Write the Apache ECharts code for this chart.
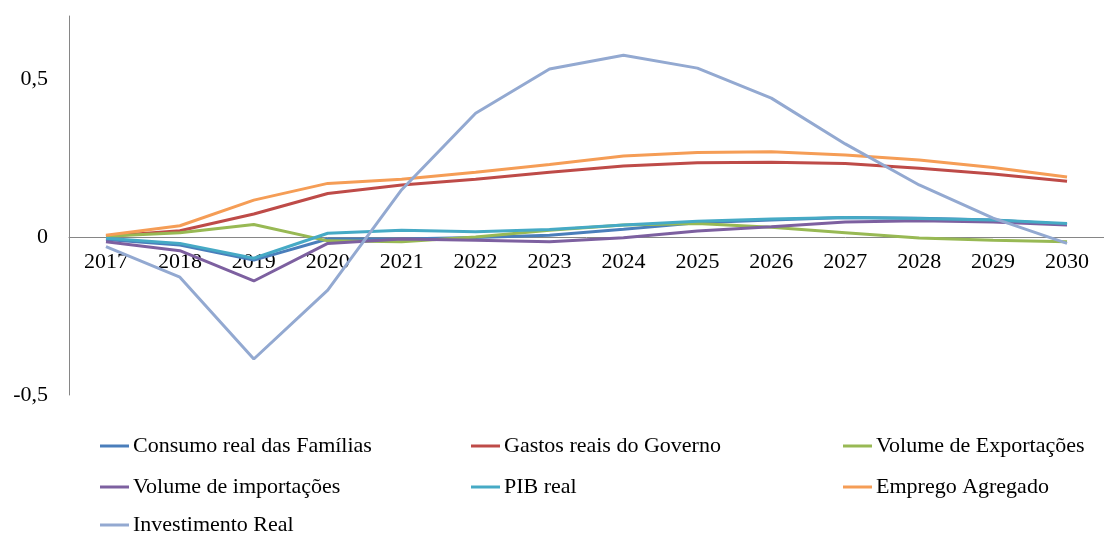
<!DOCTYPE html>
<html>
<head>
<meta charset="utf-8">
<script src="https://cdn.jsdelivr.net/npm/echarts@6/dist/echarts.min.js"></script>
<style>
html,body{margin:0;padding:0;background:#fff;}
#c{width:1104px;height:534px;}
</style>
</head>
<body>
<div id="c"></div>
<script>
var years = ['2017','2018','2019','2020','2021','2022','2023','2024','2025','2026','2027','2028','2029','2030'];
var seriesNames = ['Consumo real das Famílias','Gastos reais do Governo','Volume de Exportações','Volume de importações','PIB real','Emprego Agregado','Investimento Real'];
var consumo      = [-0.008,-0.025,-0.073,-0.006,-0.006,-0.001,0.006,0.025,0.045,0.054,0.062,0.060,0.054,0.040];
var gastos       = [0.003,0.020,0.073,0.138,0.165,0.183,0.205,0.225,0.235,0.237,0.233,0.218,0.200,0.177];
var exportacoes  = [0.003,0.014,0.040,-0.012,-0.015,0.000,0.022,0.038,0.043,0.031,0.014,-0.003,-0.010,-0.015];
var importacoes  = [-0.015,-0.043,-0.139,-0.020,-0.006,-0.010,-0.015,-0.002,0.019,0.033,0.048,0.052,0.048,0.038];
var pib          = [-0.004,-0.020,-0.067,0.012,0.022,0.017,0.024,0.038,0.050,0.057,0.062,0.059,0.054,0.043];
var emprego      = [0.006,0.036,0.117,0.170,0.183,0.205,0.230,0.257,0.268,0.270,0.260,0.244,0.220,0.190];
var investimento = [-0.030,-0.127,-0.386,-0.168,0.150,0.392,0.532,0.576,0.535,0.440,0.295,0.165,0.060,-0.020];
var yTicks = [-0.5, 0, 0.5];

var dataList = [consumo, gastos, exportacoes, importacoes, pib, emprego, investimento];
var colors = ['#4A7EBB','#BE4B48','#98B954','#7D60A0','#46AAC5','#F59D56','#93A9D1'];
var font = 'Liberation Serif, Times New Roman, serif';

var chart = echarts.init(document.getElementById('c'));
var series = seriesNames.map(function(n, i){
  return {
    name: n, type: 'line', data: dataList[i], symbol: 'none',
    lineStyle: {width: 3, color: colors[i]}, itemStyle: {color: colors[i]},
    emphasis: {disabled: true}
  };
});
// legend slots: [series index, left, top]
var legendSlots = [[0,100,435],[3,100,476],[6,100,514],[1,471,435],[4,471,476],[2,843,435],[5,843,476]];
var legends = legendSlots.map(function(s){
  return {
    left: s[1], top: s[2], padding: 0, icon: 'rect', itemWidth: 29, itemHeight: 3,
    data: [seriesNames[s[0]]], selectedMode: false,
    textStyle: {fontFamily: font, fontSize: 22, color: '#000', lineHeight: 22, padding: [0,0,0,-1]}
  };
});
chart.setOption({
  animation: false,
  color: colors,
  grid: {left: 69, right: -6, top: 16, bottom: 139},
  legend: legends,
  xAxis: {
    type: 'category', data: years, boundaryGap: true, offset: -158,
    axisLine: {onZero: false, lineStyle: {color: '#868686', width: 1}},
    axisTick: {show: false},
    axisLabel: {fontFamily: font, fontSize: 22, color: '#000', margin: 14}
  },
  yAxis: {
    type: 'value', min: -0.5, max: 0.7, interval: 0.5,
    axisLine: {show: true, lineStyle: {color: '#868686', width: 1}},
    axisTick: {show: false},
    splitLine: {show: false},
    axisLabel: {
      fontFamily: font, fontSize: 22, color: '#000', margin: 21,
      formatter: function(v){
        for (var k = 0; k < yTicks.length; k++) {
          if (Math.abs(v - yTicks[k]) < 1e-9) return String(yTicks[k]).replace('.', ',');
        }
        return '';
      }
    }
  },
  series: series
});
</script>
</body>
</html>
